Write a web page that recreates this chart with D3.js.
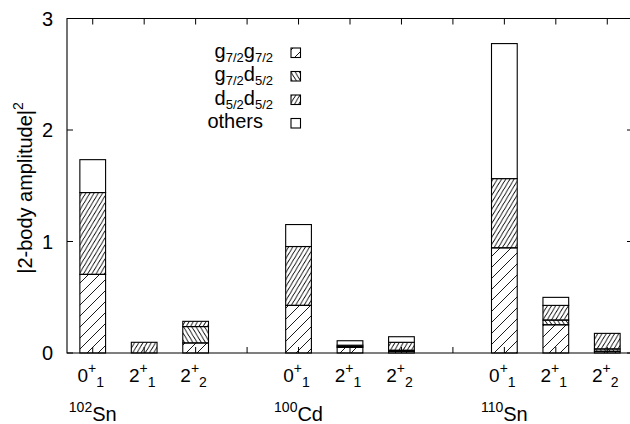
<!DOCTYPE html>
<html>
<head>
<meta charset="utf-8">
<script src="https://cdn.jsdelivr.net/npm/d3@7"></script>
<style>
  body { margin: 0; background: #fff; }
  text { font-family: "Liberation Sans", Arial, Helvetica, sans-serif; fill: #000; }
</style>
</head>
<body>
<div id="chart"></div>
<script>
// nuclei and states
var massNumbers = ["102", "100", "110"];
var elements = ["Sn", "Cd", "Sn"];
var stateJ = ["0", "2", "2"];
var stateSub = ["1", "1", "2"];

// components of the 2-body amplitude, 9 bars (3 states x 3 nuclei)
var components = ["g7g7", "g7d5", "d5d5", "others"];
var g7g7 = [0.705, 0, 0.09, 0.427, 0.05, 0.014, 0.943, 0.253, 0.015];
var g7d5 = [0, 0, 0.147, 0, 0.01, 0.01, 0, 0.042, 0.021];
var d5d5 = [0.734, 0.096, 0.047, 0.528, 0.01, 0.072, 0.621, 0.132, 0.14];
var others = [0.295, 0, 0, 0.197, 0.04, 0.05, 1.211, 0.072, 0];

var yTicks = [0, 1, 2, 3];

var svgWidth = 630;
var svgHeight = 424;
var svg = d3.select("#chart").append("svg").attr("width", svgWidth).attr("height", svgHeight);

var x = d3.scaleLinear().domain([-0.5, 10.5]).range([67, 633]);
var y = d3.scaleLinear().domain([0, 3]).range([353, 18.5]);

// hatch patterns
var defs = svg.append("defs");
function hatch(id, w, h, forward) {
    var p = defs.append("pattern")
        .attr("id", id)
        .attr("patternUnits", "userSpaceOnUse")
        .attr("width", w).attr("height", h);
    var d = "";
    [-w, 0, w].forEach(function(o) {
        if (forward) d += "M" + o + "," + h + "L" + (o + w) + ",0";
        else d += "M" + o + ",0L" + (o + w) + "," + h;
    });
    p.append("path").attr("d", d).attr("stroke", "#000").attr("stroke-width", 0.9).attr("fill", "none");
}
hatch("pg7g7", 11, 11, true);
hatch("pg7d5", 4.2, 7, false);
hatch("pd5d5", 4.2, 7, true);
var fills = {g7g7: "url(#pg7g7)", g7d5: "url(#pg7d5)", d5d5: "url(#pd5d5)", others: "#fff"};
var seriesData = {g7g7: g7g7, g7d5: g7d5, d5d5: d5d5, others: others};

// build stacked segments
var bars = [];
for (var i = 0; i < 9; i++) {
    var pos = Math.floor(i / 3) * 4 + (i % 3);
    var base = 0;
    components.forEach(function(c) {
        var v = seriesData[c][i];
        bars.push({pos: pos, y0: base, y1: base + v, comp: c});
        base += v;
    });
}

var bw = x(0.25) - x(-0.25);

// ticks (drawn under the bars)
var tickPos = d3.range(0, 11);
var tickG = svg.append("g").attr("stroke", "#000").attr("stroke-width", 1);
tickPos.forEach(function(t) {
    tickG.append("line").attr("x1", x(t)).attr("x2", x(t)).attr("y1", y(0)).attr("y2", y(0) - 6);
    tickG.append("line").attr("x1", x(t)).attr("x2", x(t)).attr("y1", y(3)).attr("y2", y(3) + 6);
});
yTicks.forEach(function(t) {
    tickG.append("line").attr("x1", x(-0.5)).attr("x2", x(-0.5) + 6).attr("y1", y(t)).attr("y2", y(t));
    tickG.append("line").attr("x1", x(10.5)).attr("x2", x(10.5) - 6).attr("y1", y(t)).attr("y2", y(t));
});

svg.append("g").selectAll("rect")
    .data(bars)
    .enter()
    .append("rect")
    .attr("x", d => x(d.pos) - bw / 2)
    .attr("y", d => y(d.y1))
    .attr("width", bw)
    .attr("height", d => y(d.y0) - y(d.y1))
    .attr("fill", d => fills[d.comp])
    .attr("stroke", "#000")
    .attr("stroke-width", 1.1);

// border
svg.append("path")
    .attr("d", "M" + x(10.5) + "," + y(3) + "H" + x(-0.5) + "V" + y(0) + "H" + x(10.5) + "V" + y(3))
    .attr("fill", "none").attr("stroke", "#000").attr("stroke-width", 1.1);

// y tick labels
svg.append("g").selectAll("text")
    .data(yTicks)
    .enter()
    .append("text")
    .attr("x", 53)
    .attr("y", d => y(d))
    .attr("dy", "0.36em")
    .attr("text-anchor", "end")
    .style("font-size", "20px")
    .text(d => d);

// x tick labels
for (var i = 0; i < 9; i++) {
    var pos = Math.floor(i / 3) * 4 + (i % 3);
    var s = i % 3;
    var t = svg.append("text")
        .attr("x", x(pos) - 2)
        .attr("y", 382)
        .attr("text-anchor", "middle")
        .style("font-size", "19px");
    t.append("tspan").text(stateJ[s]);
    t.append("tspan").attr("dy", -9).style("font-size", "14px").text("+");
    t.append("tspan").attr("dy", 14).style("font-size", "14px").text(stateSub[s]);
}

// nucleus labels
massNumbers.forEach(function(m, g) {
    var t = svg.append("text")
        .attr("x", x(g * 4))
        .attr("y", 421)
        .attr("text-anchor", "middle")
        .style("font-size", "20px");
    t.append("tspan").attr("dy", -9).style("font-size", "14px").text(m);
    t.append("tspan").attr("dy", 9).text(elements[g]);
});

// y axis label
var yl = svg.append("text")
    .attr("transform", "translate(32,188) rotate(-90)")
    .attr("text-anchor", "middle")
    .style("font-size", "20px");
yl.append("tspan").text("|2-body amplitude|");
yl.append("tspan").attr("dy", -9).style("font-size", "14px").text("2");

// legend
var legendRows = [
    {comp: "g7g7", a: "g", as: "7/2", b: "g", bs: "7/2"},
    {comp: "g7d5", a: "g", as: "7/2", b: "d", bs: "5/2"},
    {comp: "d5d5", a: "d", as: "5/2", b: "d", bs: "5/2"},
    {comp: "others", a: "others"}
];
legendRows.forEach(function(r, k) {
    var cy = 52.5 + k * 23.5;
    var t = svg.append("text")
        .attr("x", r.as ? 273 : 263)
        .attr("y", cy + 5)
        .attr("text-anchor", "end")
        .style("font-size", "20px");
    t.append("tspan").text(r.a);
    if (r.as) {
        t.append("tspan").attr("dy", 4).style("font-size", "13px").text(r.as);
        t.append("tspan").attr("dy", -4).text(r.b);
        t.append("tspan").attr("dy", 4).style("font-size", "13px").text(r.bs);
    }
    svg.append("rect")
        .attr("x", 291).attr("y", cy - 4.5)
        .attr("width", 9.5).attr("height", 9.5)
        .attr("fill", fills[r.comp])
        .attr("stroke", "#000").attr("stroke-width", 1.1);
});
</script>
</body>
</html>
